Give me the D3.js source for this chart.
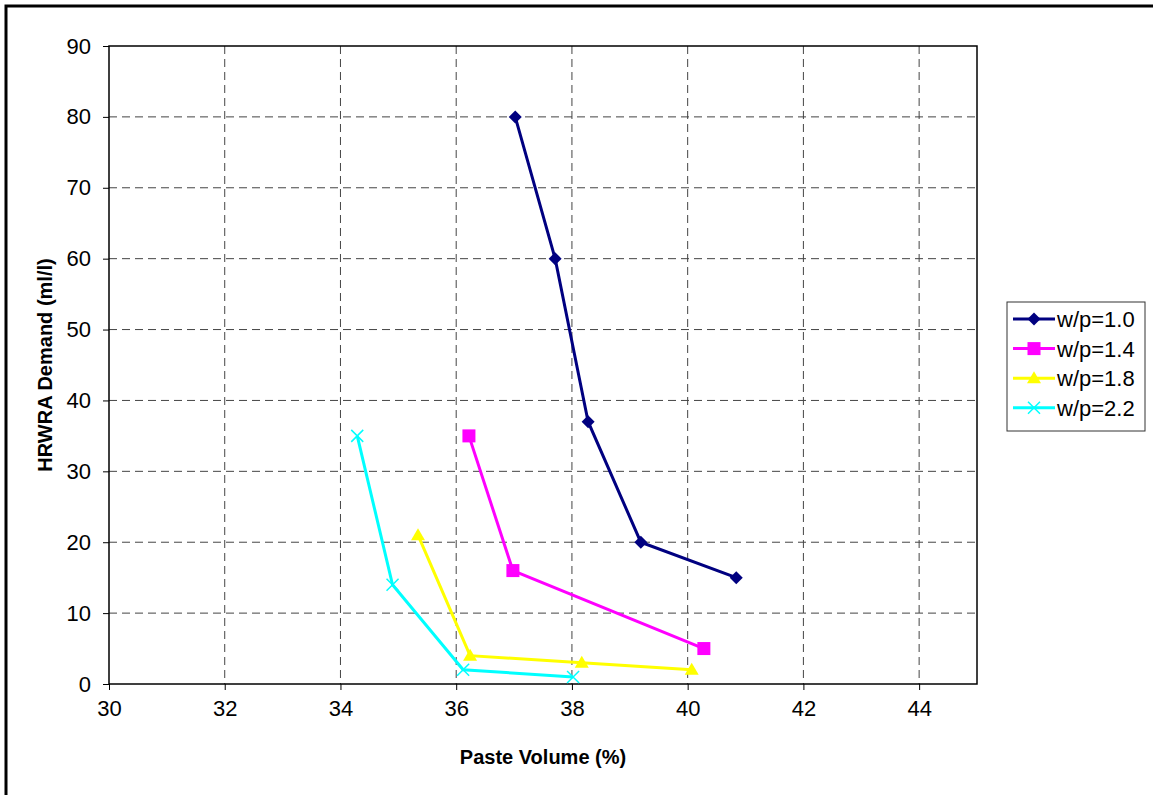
<!DOCTYPE html>
<html>
<head>
<meta charset="utf-8">
<script src="https://cdn.jsdelivr.net/npm/d3@7"></script>
<style>
  body { margin: 0; background: #fff; }
  svg { font-family: "Liberation Sans", Arial, sans-serif; }
</style>
</head>
<body>
<svg id="chart"></svg>
<script>
var seriesNames = ['w/p=1.0', 'w/p=1.4', 'w/p=1.8', 'w/p=2.2'];
var seriesColors = ['#000080', '#ff00ff', '#ffff00', '#00ffff'];
var seriesMarkers = ['diamond', 'square', 'triangle', 'x'];

var s10x = [37.02, 37.71, 38.28, 39.19, 40.84];
var s10y = [80, 60, 37, 20, 15];
var s14x = [36.22, 36.98, 40.28];
var s14y = [35, 16, 5];
var s18x = [35.34, 36.24, 38.17, 40.07];
var s18y = [21, 4, 3, 2];
var s22x = [34.29, 34.90, 36.12, 38.02];
var s22y = [35, 14, 2, 1];

var xTicks = [30, 32, 34, 36, 38, 40, 42, 44];
var yTicks = [0, 10, 20, 30, 40, 50, 60, 70, 80, 90];

var seriesX = [s10x, s14x, s18x, s22x];
var seriesY = [s10y, s14y, s18y, s22y];

var width = 1153;
var height = 795;
var plotL = 109, plotT = 46, plotR = 977, plotB = 684;

var svg = d3.select('#chart')
    .attr('width', width)
    .attr('height', height);

// outer frame
svg.append('rect')
    .attr('x', 6).attr('y', 6)
    .attr('width', width + 10).attr('height', height + 10)
    .attr('fill', 'none')
    .attr('stroke', '#000')
    .attr('stroke-width', 3);

var x = d3.scaleLinear().domain([30, 45]).range([plotL, plotR]);
var y = d3.scaleLinear().domain([0, 90]).range([plotB, plotT]);

var g = svg.append('g');

// grid
g.selectAll('.vgrid')
    .data(xTicks.slice(1))
    .enter().append('line')
    .attr('x1', d => x(d)).attr('x2', d => x(d))
    .attr('y1', plotT).attr('y2', plotB)
    .attr('stroke', '#444')
    .attr('stroke-dasharray', '8,5');

g.selectAll('.hgrid')
    .data(yTicks.slice(1, -1))
    .enter().append('line')
    .attr('x1', plotL).attr('x2', plotR)
    .attr('y1', d => y(d)).attr('y2', d => y(d))
    .attr('stroke', '#444')
    .attr('stroke-dasharray', '8,5');

// axes
var xAxis = d3.axisBottom(x).tickValues(xTicks).tickSize(6).tickPadding(10).tickFormat(d3.format('d'));
var yAxis = d3.axisLeft(y).tickValues(yTicks).tickSize(6).tickPadding(12).tickFormat(d3.format('d'));

var xg = svg.append('g').attr('transform', `translate(0,${plotB})`).call(xAxis);
var yg = svg.append('g').attr('transform', `translate(${plotL},0)`).call(yAxis);
[xg, yg].forEach(a => {
    a.select('.domain').remove();
    a.selectAll('.tick line').attr('stroke', '#000');
    a.selectAll('.tick text').attr('font-size', 22).attr('fill', '#000')
        .style('font-family', '"Liberation Sans", Arial, sans-serif');
});

// plot border
svg.append('rect')
    .attr('x', plotL).attr('y', plotT)
    .attr('width', plotR - plotL).attr('height', plotB - plotT)
    .attr('fill', 'none')
    .attr('stroke', '#000')
    .attr('stroke-width', 1.5);

// axis titles
svg.append('text')
    .attr('x', (plotL + plotR) / 2).attr('y', 764)
    .attr('text-anchor', 'middle')
    .attr('font-size', 20).attr('font-weight', 'bold')
    .text('Paste Volume (%)');

svg.append('text')
    .attr('transform', `translate(52,${(plotT + plotB) / 2}) rotate(-90)`)
    .attr('text-anchor', 'middle')
    .attr('font-size', 20).attr('font-weight', 'bold')
    .text('HRWRA Demand (ml/l)');

function drawMarker(sel, type, color, cx, cy) {
    if (type === 'diamond') {
        sel.append('path').attr('d', `M${cx},${cy - 6.5}L${cx + 6.5},${cy}L${cx},${cy + 6.5}L${cx - 6.5},${cy}Z`)
            .attr('fill', color);
    } else if (type === 'square') {
        sel.append('rect').attr('x', cx - 6.5).attr('y', cy - 6.5).attr('width', 13).attr('height', 13)
            .attr('fill', color);
    } else if (type === 'triangle') {
        sel.append('path').attr('d', `M${cx},${cy - 7}L${cx + 7},${cy + 5}L${cx - 7},${cy + 5}Z`)
            .attr('fill', color);
    } else {
        sel.append('path').attr('d', `M${cx - 6},${cy - 6}L${cx + 6},${cy + 6}M${cx + 6},${cy - 6}L${cx - 6},${cy + 6}`)
            .attr('stroke', color).attr('stroke-width', 1.5);
    }
}

var line = d3.line().x(d => x(d[0])).y(d => y(d[1]));

seriesNames.forEach((name, i) => {
    var pts = seriesX[i].map((v, j) => [v, seriesY[i][j]]);
    svg.append('path')
        .attr('d', line(pts))
        .attr('fill', 'none')
        .attr('stroke', seriesColors[i])
        .attr('stroke-width', 3);
    var mg = svg.append('g');
    pts.forEach(p => drawMarker(mg, seriesMarkers[i], seriesColors[i], x(p[0]), y(p[1])));
});

// legend
var lg = svg.append('g').attr('transform', 'translate(1007,302)');
lg.append('rect')
    .attr('width', 138).attr('height', 129)
    .attr('fill', '#fff')
    .attr('stroke', '#333')
    .attr('stroke-width', 1);
seriesNames.forEach((name, i) => {
    var ly = 17 + i * 29.6;
    lg.append('line')
        .attr('x1', 6).attr('x2', 48)
        .attr('y1', ly).attr('y2', ly)
        .attr('stroke', seriesColors[i])
        .attr('stroke-width', 3);
    drawMarker(lg, seriesMarkers[i], seriesColors[i], 27, ly);
    lg.append('text')
        .attr('x', 50).attr('y', ly + 8)
        .attr('font-size', 22)
        .text(name);
});
</script>
</body>
</html>
